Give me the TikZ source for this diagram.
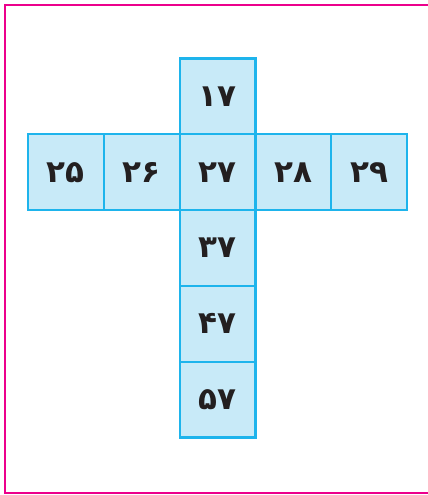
\documentclass[tikz,border=0pt]{standalone}
\usepackage{fontspec}
\newfontfamily\urdufont[Script=Arabic,Language=Urdu]{DejaVu Sans}
\usetikzlibrary{positioning}
\definecolor{CellBlue}{HTML}{C8EAF8}
\definecolor{CellEdge}{HTML}{1EB4EC}
\definecolor{FrameMagenta}{HTML}{EC008C}
\definecolor{InkBlack}{HTML}{231F20}

\begin{document}
\begin{tikzpicture}[x=1pt, y=-1pt,
  cell/.style={rectangle, draw=CellEdge, fill=CellBlue, line width=2.2pt, text=InkBlack,
               minimum size=75.8pt, inner sep=0pt, outer sep=0pt,
               font=\urdufont\bfseries\fontsize{31}{31}\selectfont},
  node distance=0pt
]
  \useasboundingbox (0,0) rectangle (428,495);
  \draw[FrameMagenta, line width=2pt] (5,5) rectangle (440,492.5);
  \node[cell] (c27) at (217.5,172.2) {۲۷};
  \node[cell, above=of c27] (c17) {۱۷};
  \node[cell, left=of c27] (c26) {۲۶};
  \node[cell, left=of c26] (c25) {۲۵};
  \node[cell, right=of c27] (c28) {۲۸};
  \node[cell, right=of c28] (c29) {۲۹};
  \node[cell, below=of c27] (c37) {۳۷};
  \node[cell, below=of c37] (c47) {۴۷};
  \node[cell, below=of c47] (c57) {۵۷};
\end{tikzpicture}
\end{document}
